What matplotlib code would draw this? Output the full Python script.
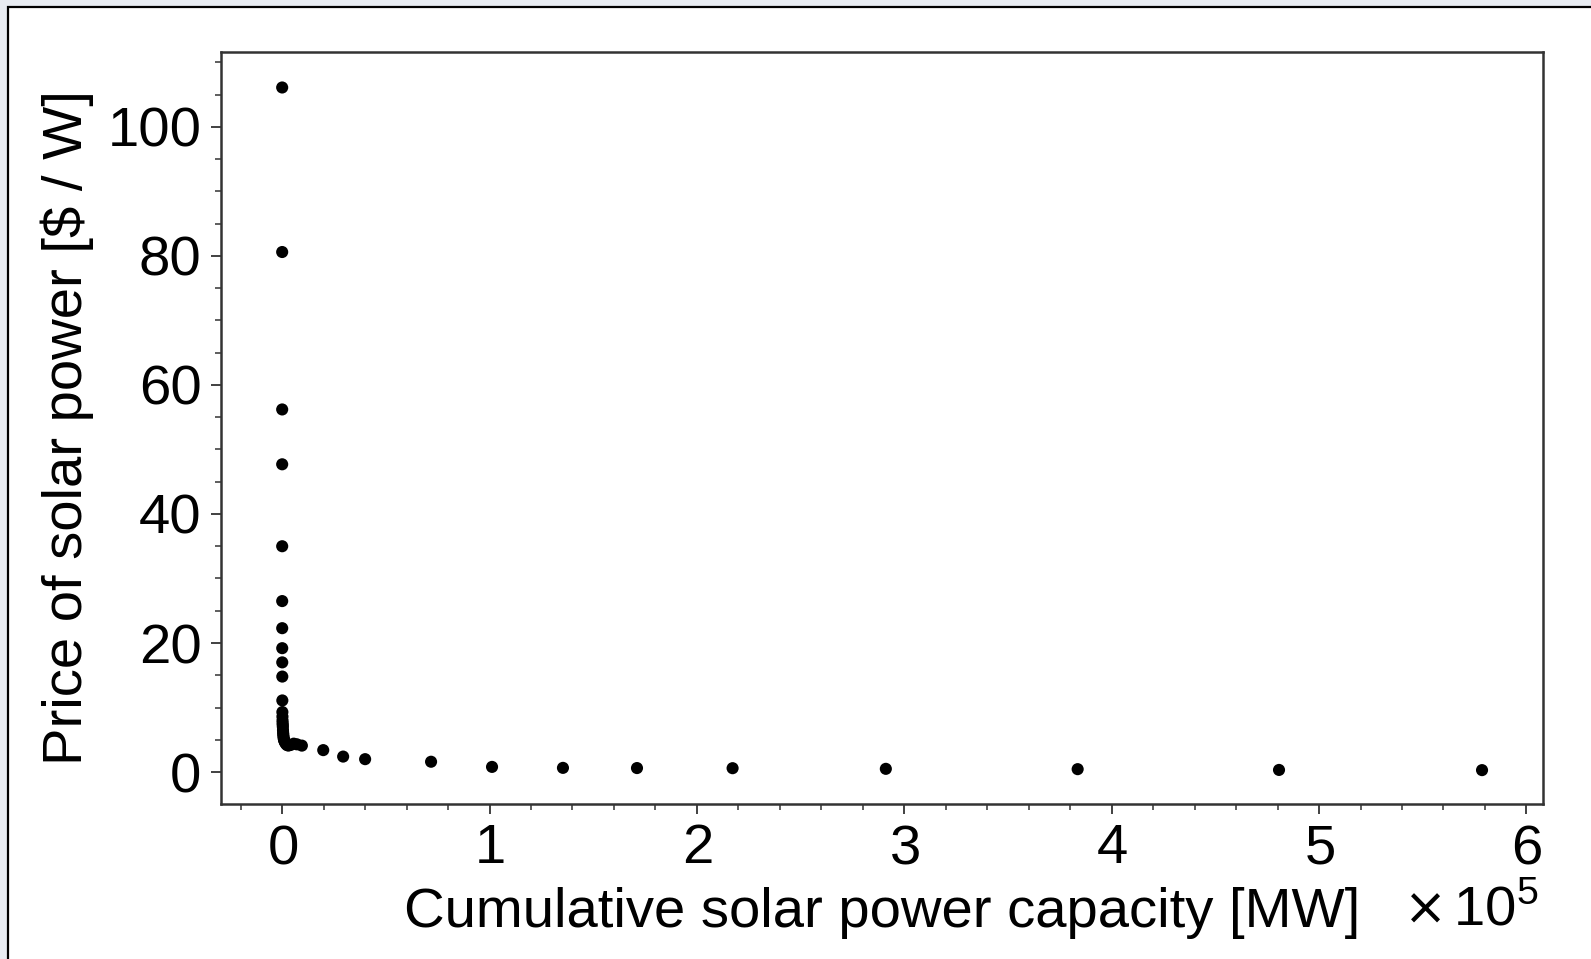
import numpy as np
import matplotlib.pyplot as plt
from matplotlib.patches import Rectangle
from matplotlib.ticker import MultipleLocator, ScalarFormatter

# cumulative installed PV capacity (MW) and module price ($/W), one point per year
capacity_mw = [0.3, 0.5, 2, 3, 5, 8, 15, 24, 36, 56,
               73, 97, 130, 170, 216, 271, 328, 388, 457, 536,
               625, 735, 889, 1089, 1368, 1750, 2250, 2970, 4085, 5575,
               7100, 9500, 19800, 29400, 40000, 71800, 101200, 135400, 171100, 217200,
               291100, 383600, 480700, 578600]
price_per_watt = [106.1, 80.6, 56.2, 47.7, 35.0, 26.5, 22.3, 19.2, 17.0, 14.8,
                  11.1, 9.3, 8.6, 8.0, 7.6, 7.3, 7.0, 6.5, 6.1, 5.8,
                  5.5, 5.2, 5.0, 4.8, 4.6, 4.4, 4.2, 4.1, 4.2, 4.4,
                  4.3, 4.1, 3.4, 2.4, 2.0, 1.6, 0.8, 0.65, 0.62, 0.6,
                  0.5, 0.45, 0.33, 0.3]

plt.rcParams['font.family'] = ['Liberation Sans', 'DejaVu Sans']
plt.rcParams['mathtext.fontset'] = 'custom'
plt.rcParams['mathtext.rm'] = 'Liberation Sans'

FS = 40.5
W, H = 1591, 959
fig = plt.figure(figsize=(W/100, H/100), dpi=100)
fig.patch.set_facecolor('#e8ecf2')

# white panel with a black frame, behind the axes
frame = Rectangle((8/W, -0.05), 1.1, 1.05 - 7/H, transform=fig.transFigure,
                  facecolor='white', edgecolor='black', linewidth=1.6, zorder=-5)
fig.patches.append(frame)

ax = fig.add_axes([221/W, 1 - 804/H, (1543-221)/W, (804-52)/H])
ax.scatter(capacity_mw, price_per_watt, s=76, color='black', edgecolors='none', zorder=3)

ax.set_xlim(-0.295e5, 6.08e5)
ax.set_ylim(-4.95, 111.6)

ax.xaxis.set_major_locator(MultipleLocator(1e5))
ax.xaxis.set_minor_locator(MultipleLocator(0.2e5))
ax.yaxis.set_major_locator(MultipleLocator(20))
ax.yaxis.set_minor_locator(MultipleLocator(5))

fmt = ScalarFormatter(useMathText=True)
fmt.set_powerlimits((0, 0))
ax.xaxis.set_major_formatter(fmt)
# exponent is written out beside the x label instead
ax.xaxis.get_offset_text().set_visible(False)

spine_col = '#333333'
for sp in ax.spines.values():
    sp.set_linewidth(1.8)
    sp.set_color(spine_col)
ax.tick_params(which='major', direction='out', length=7, width=1.3, color=spine_col,
               labelsize=FS, pad=7)
ax.tick_params(which='minor', direction='out', length=4, width=1.1, color=spine_col)

ax.set_xlabel('Cumulative solar power capacity [MW]', fontsize=FS, labelpad=8)
ax.set_ylabel('Price of solar power [\\$ / W]', fontsize=FS, labelpad=9.5)

base = 1 - 925/H
fig.text(1538/W, base, '10$^{5}$', fontsize=FS, ha='right', va='baseline')
fig.text(1447/W, base, '\u00d7', fontsize=37, family='DejaVu Sans', ha='right', va='baseline')

plt.savefig('out.png', dpi=100, facecolor=fig.get_facecolor())
